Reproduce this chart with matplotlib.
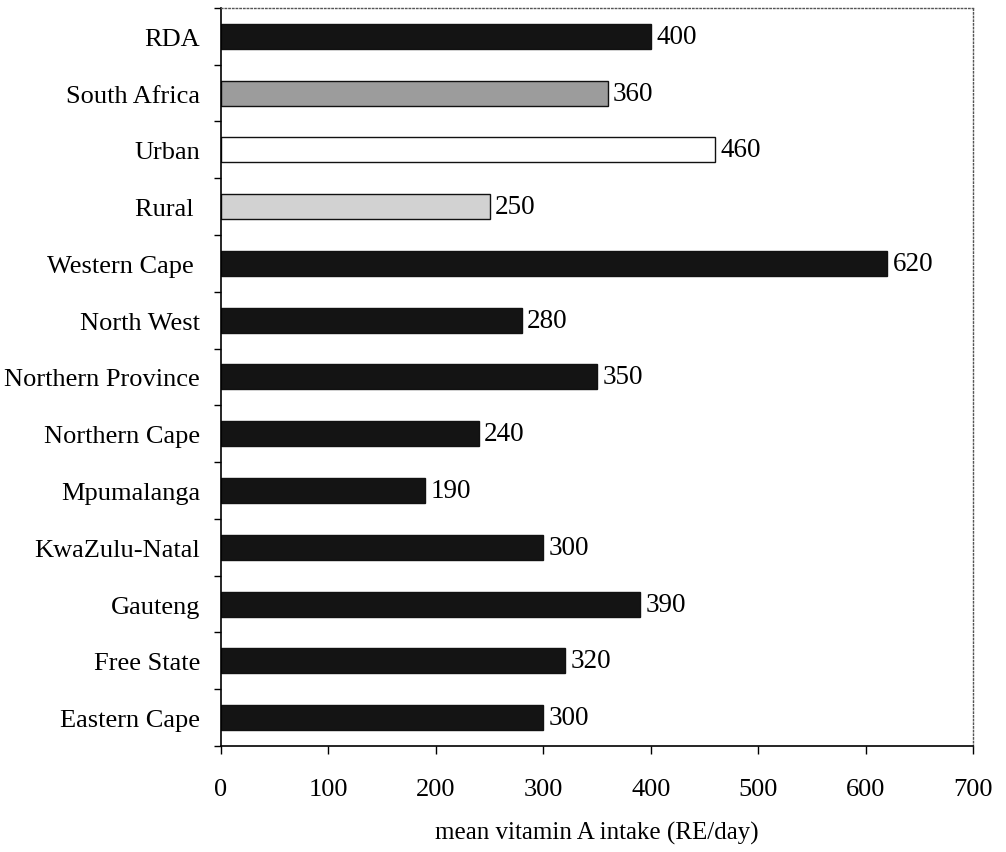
import matplotlib
matplotlib.use('Agg')
import matplotlib.pyplot as plt
import numpy as np

# Categories from bottom to top, as drawn on the y axis
regions = ['Eastern Cape', 'Free State', 'Gauteng', 'KwaZulu-Natal', 'Mpumalanga',
           'Northern Cape', 'Northern Province', 'North West', 'Western Cape ',
           'Rural ', 'Urban', 'South Africa', 'RDA']
intake = [300, 320, 390, 300, 190, 240, 350, 280, 620, 250, 460, 360, 400]
bar_colors = ['#141414'] * 9 + ['#d2d2d2', 'white', '#9c9c9c', '#141414']
x_ticks = [0, 100, 200, 300, 400, 500, 600, 700]

plt.rcParams['font.family'] = ['Liberation Serif', 'DejaVu Serif']

fig = plt.figure(figsize=(10.06, 8.53), dpi=100)
ax = fig.add_axes([0.2197, 0.1243, 0.7475, 0.8652])

y = np.arange(len(regions))
ax.barh(y, intake, height=0.44, color=bar_colors, edgecolor='#111111', linewidth=1.0)

for yi, v in zip(y, intake):
    ax.text(v + 5, yi, str(v), va='center', ha='left', fontsize=19.5)

ax.set_xlim(0, 700)
ax.set_ylim(-0.5, len(regions) - 0.5)
ax.set_xticks(x_ticks)
ax.tick_params(axis='x', direction='out', length=6, width=1, pad=17, labelsize=19)

# category labels sit on the bars, tick marks sit between categories
ax.set_yticks(y)
ax.set_yticklabels(regions)
ax.set_yticks(np.arange(len(regions) + 1) - 0.5, minor=True)
ax.tick_params(axis='y', which='major', length=0, pad=15, labelsize=19)
ax.tick_params(axis='y', which='minor', direction='out', length=5, width=1)

for side in ['top', 'right']:
    ax.spines[side].set_linestyle(':')
    ax.spines[side].set_color('#555555')
    ax.spines[side].set_linewidth(1.0)
for side in ['left', 'bottom']:
    ax.spines[side].set_linewidth(1.2)

ax.set_xlabel('mean vitamin A intake (RE/day)', fontsize=18, labelpad=15)

plt.savefig('out.png')
plt.close()
